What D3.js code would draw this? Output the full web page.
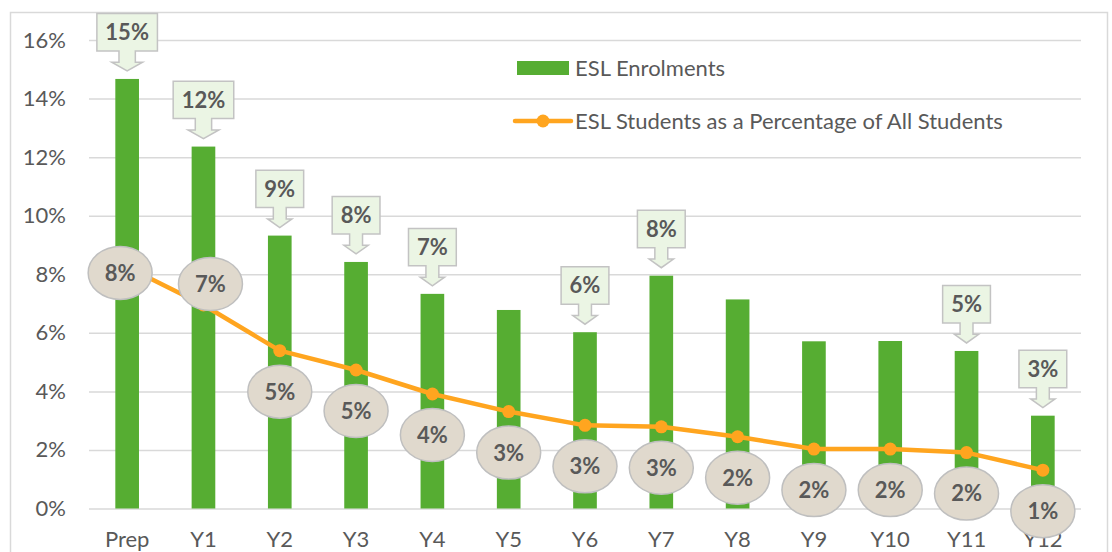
<!DOCTYPE html>
<html>
<head>
<meta charset="utf-8">
<script src="https://cdn.jsdelivr.net/npm/d3@7"></script>
<style>
  body { margin: 0; background: #fff; }
  svg { display: block; font-family: Lato, "Open Sans", sans-serif; }
</style>
</head>
<body>
<div id="chart"></div>
<script>
// year levels along the bottom
const years = ["Prep", "Y1", "Y2", "Y3", "Y4", "Y5", "Y6", "Y7", "Y8", "Y9", "Y10", "Y11", "Y12"];

// ESL enrolments (share of all ESL students), percent
const enrolments = [14.67, 12.36, 9.32, 8.42, 7.33, 6.78, 6.02, 7.95, 7.14, 5.71, 5.72, 5.38, 3.17];

// ESL students as a percentage of all students in the year level
const eslShare = [8.25, 6.95, 5.39, 4.73, 3.91, 3.31, 2.84, 2.79, 2.45, 2.03, 2.03, 1.91, 1.31];

// which bars carry an arrow callout
const barLabelShown = [true, true, true, true, true, false, true, true, false, false, false, true, true];

const yTicks = [0, 2, 4, 6, 8, 10, 12, 14, 16];

const seriesNames = ["ESL Enrolments", "ESL Students as a Percentage of All Students"];

const width = 1112, height = 552;
const green = "#56ad32", orange = "#ffa51f", textCol = "#595959", gridCol = "#d9d9d9";

const svg = d3.select("#chart").append("svg")
    .attr("width", width)
    .attr("height", height);

// outer chart frame
svg.append("rect")
    .attr("x", 10.5).attr("y", 12.5)
    .attr("width", 1097).attr("height", 580)
    .attr("fill", "none")
    .attr("stroke", gridCol)
    .attr("stroke-width", 1.5);

const x = d3.scaleBand()
    .domain(years)
    .range([89, 1081])
    .paddingInner(0.69)
    .paddingOuter(0.345);

const y = d3.scaleLinear()
    .domain([0, 16])
    .range([508.5, 40]);

const cx = d => x(d) + x.bandwidth() / 2;

// gridlines + y labels
const yAxis = d3.axisLeft(y)
    .tickValues(yTicks)
    .tickSize(-(1081 - 89))
    .tickPadding(23)
    .tickFormat(d => d + "%");

const gy = svg.append("g")
    .attr("transform", "translate(89,0)")
    .call(yAxis);
gy.select(".domain").remove();
gy.selectAll(".tick line").attr("stroke", gridCol).attr("stroke-width", 1.5);
gy.selectAll(".tick text")
    .attr("fill", textCol)
    .style("font-size", "22px")
    .style("font-family", "Lato, sans-serif");

// x labels
const xAxis = d3.axisBottom(x).tickSize(0).tickPadding(0);
const gx = svg.append("g")
    .attr("transform", "translate(0,508.5)")
    .call(xAxis);
gx.select(".domain").remove();
gx.selectAll(".tick text")
    .attr("fill", textCol)
    .attr("dy", null)
    .attr("y", 38.5)
    .style("font-size", "22px")
    .style("font-family", "Lato, sans-serif");

// bars
svg.selectAll(".bar")
    .data(enrolments)
    .enter()
    .append("rect")
    .attr("class", "bar")
    .attr("x", (d, i) => x(years[i]))
    .attr("y", d => y(d))
    .attr("width", x.bandwidth())
    .attr("height", d => y(0) - y(d))
    .attr("fill", green);

// line + markers
const line = d3.line()
    .x((d, i) => cx(years[i]))
    .y(d => y(d));

svg.append("path")
    .datum(eslShare)
    .attr("d", line)
    .attr("fill", "none")
    .attr("stroke", orange)
    .attr("stroke-width", 4.5)
    .attr("stroke-linejoin", "round");

svg.selectAll(".dot")
    .data(eslShare)
    .enter()
    .append("circle")
    .attr("class", "dot")
    .attr("cx", (d, i) => cx(years[i]))
    .attr("cy", d => y(d))
    .attr("r", 6.5)
    .attr("fill", orange);

// ellipse labels for the line, below the point (first two were moved by hand)
const nudge = { Prep: [-7, 6], Y1: [7, -21] };
const lineLabels = svg.selectAll(".lineLabel")
    .data(eslShare)
    .enter()
    .append("g")
    .attr("class", "lineLabel")
    .attr("transform", (d, i) => {
        const n = nudge[years[i]];
        const px = cx(years[i]) + (n ? n[0] : 0);
        const py = y(d) + (n ? n[1] : 41);
        return "translate(" + px + "," + py + ")";
    });

lineLabels.append("ellipse")
    .attr("rx", 32)
    .attr("ry", 26.5)
    .attr("fill", "#e0d9cd")
    .attr("stroke", "#bfbfbf")
    .attr("stroke-width", 1.5);

lineLabels.append("text")
    .attr("text-anchor", "middle")
    .attr("dy", "0.36em")
    .attr("fill", textCol)
    .style("font-size", "22px")
    .style("font-weight", "bold")
    .text(d => Math.round(d) + "%");

// arrow callouts over the bars
const calloutData = enrolments
    .map((v, i) => ({ v: v, year: years[i] }))
    .filter((d, i) => barLabelShown[i]);

const callouts = svg.selectAll(".callout")
    .data(calloutData)
    .enter()
    .append("g")
    .attr("class", "callout");

callouts.each(function (d) {
    const g = d3.select(this);
    const label = Math.round(d.v) + "%";
    const mid = cx(d.year);
    const tip = y(d.v) - 8;
    const boxH = 37.4, shaftH = 11.3, headH = 8.7;
    const bottom = tip - headH - shaftH;
    const top = bottom - boxH;

    const t = g.append("text")
        .attr("x", mid)
        .attr("y", top + boxH / 2)
        .attr("dy", "0.36em")
        .attr("text-anchor", "middle")
        .attr("fill", textCol)
        .style("font-size", "22px")
        .style("font-weight", "bold")
        .text(label);

    const w = t.node().getComputedTextLength() + 17;
    const shaft = w * 0.27, head = w * 0.51;
    const p = d3.path();
    p.moveTo(mid - w / 2, top);
    p.lineTo(mid + w / 2, top);
    p.lineTo(mid + w / 2, bottom);
    p.lineTo(mid + shaft / 2, bottom);
    p.lineTo(mid + shaft / 2, bottom + shaftH);
    p.lineTo(mid + head / 2, bottom + shaftH);
    p.lineTo(mid, tip);
    p.lineTo(mid - head / 2, bottom + shaftH);
    p.lineTo(mid - shaft / 2, bottom + shaftH);
    p.lineTo(mid - shaft / 2, bottom);
    p.lineTo(mid - w / 2, bottom);
    p.closePath();

    g.insert("path", "text")
        .attr("d", p.toString())
        .attr("fill", "#ebf5e4")
        .attr("stroke", "#c3c3c3")
        .attr("stroke-width", 1.5);
});

// legend
const legend = svg.append("g");
legend.append("rect")
    .attr("x", 517).attr("y", 61)
    .attr("width", 52).attr("height", 14)
    .attr("fill", green);
legend.append("line")
    .attr("x1", 515).attr("x2", 571)
    .attr("y1", 121).attr("y2", 121)
    .attr("stroke", orange)
    .attr("stroke-width", 4.5)
    .attr("stroke-linecap", "round");
legend.append("circle")
    .attr("cx", 543).attr("cy", 121).attr("r", 6.5)
    .attr("fill", orange);
legend.selectAll(".legText")
    .data(seriesNames)
    .enter()
    .append("text")
    .attr("class", "legText")
    .attr("x", 575)
    .attr("y", (d, i) => i === 0 ? 75.5 : 128.5)
    .attr("fill", textCol)
    .style("font-size", "22px")
    .text(d => d);
</script>
</body>
</html>
